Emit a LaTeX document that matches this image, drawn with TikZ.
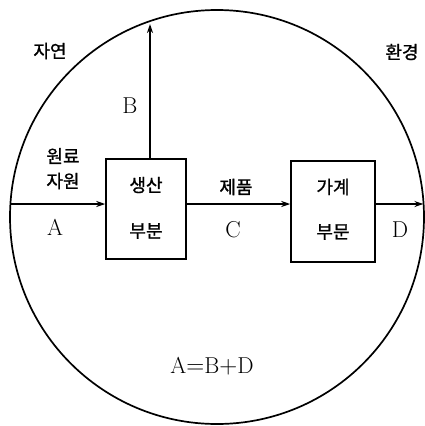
\documentclass[tikz,border=0pt]{standalone}
\usepackage{fontspec}
\newfontfamily\kr[FakeBold=1.2]{Noto Sans CJK KR}
\usetikzlibrary{arrows.meta}
\begin{document}
\begin{tikzpicture}[x=1pt,y=-1pt,
  box/.style={draw, line width=1.5pt, minimum width=80pt, minimum height=100pt, inner sep=0pt},
  kt/.style={font=\kr\fontsize{18}{21}\selectfont, inner sep=0pt},
  lt/.style={font=\fontsize{23}{25}\selectfont, inner sep=0pt},
  flow/.style={line width=1.5pt, -{Stealth[length=9pt,width=6pt]}}]
\useasboundingbox (0,0) rectangle (425,426);
\node[draw, circle, minimum size=414pt, line width=1.7pt, inner sep=0pt] (env) at (217,217) {};
\node[box] (b1) at (146,209) {};
\node[box, minimum width=84pt, minimum height=101pt] (b2) at (333,211.5) {};
\coordinate (ain) at (10.4,204);
\coordinate (dout) at (423.4,204);
\coordinate (btop) at (150,24);
\draw[flow] (ain) -- (ain -| b1.west);
\draw[flow] (ain -| b1.east) -- (ain -| b2.west);
\draw[flow] (ain -| b2.east) -- (dout);
\draw[flow] (btop |- b1.north) -- (btop);
\node[kt] (nat) at (50,51) {자연};
\node[kt] (envl) at (402,52) {환경};
\node[lt] (lb) at (130,106) {B};
\node[kt] (raw1) at (63,156) {원료};
\node[kt] (raw2) at (63,181) {자원};
\node[lt] (la) at (55,227) {A};
\node[kt] (p1) at (146,185) {생산};
\node[kt] (p2) at (146,231) {부분};
\node[kt] (prod) at (236,187) {제품};
\node[lt] (lc) at (233,230) {C};
\node[kt] (h1) at (333,187) {가계};
\node[kt] (h2) at (333,232) {부문};
\node[lt] (ld) at (400,230) {D};
\node[lt] (eq) at (212,366) {A$=$B$+$D};
\end{tikzpicture}
\end{document}
